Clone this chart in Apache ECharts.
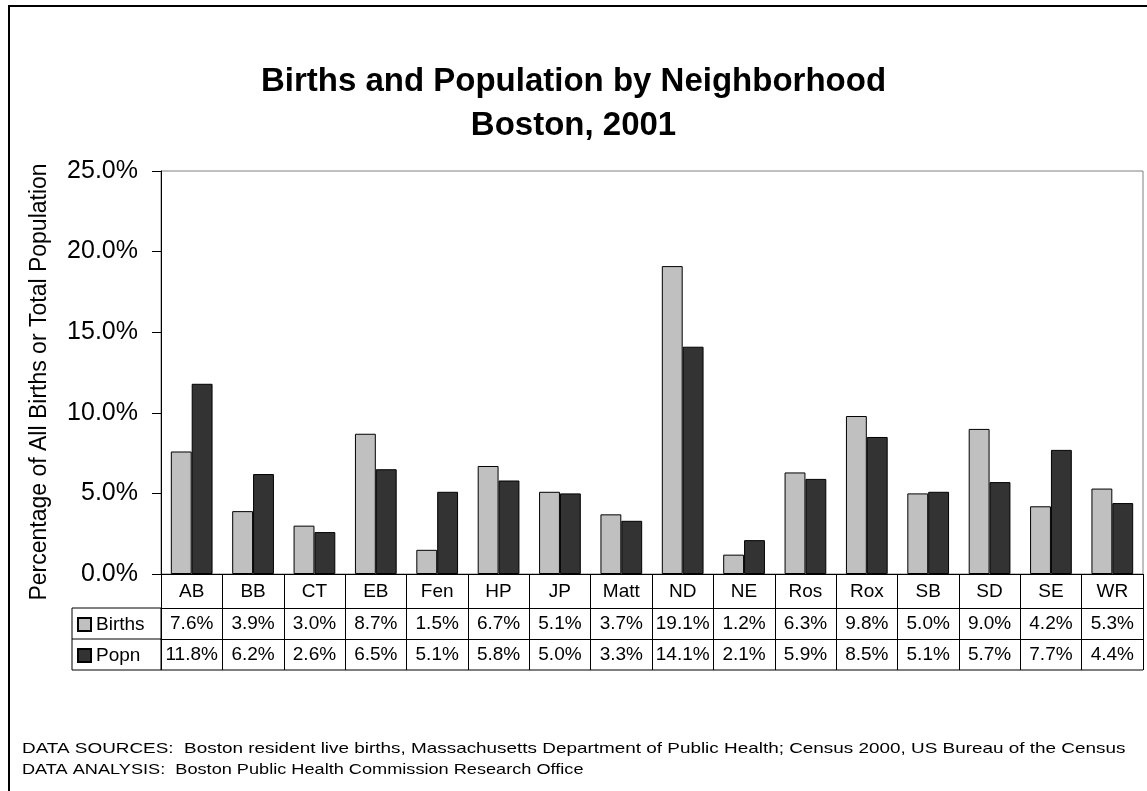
<!DOCTYPE html>
<html>
<head>
<meta charset="utf-8">
<script src="https://cdn.jsdelivr.net/npm/echarts@6/dist/echarts.min.js"></script>
<style>
  html, body { margin:0; padding:0; background:#fff; }
  #chart { width:1147px; height:791px; }
</style>
</head>
<body>
<div id="chart"></div>
<script>
// neighborhoods and values (percent)
var categories = ['AB','BB','CT','EB','Fen','HP','JP','Matt','ND','NE','Ros','Rox','SB','SD','SE','WR'];
var births = [7.6, 3.9, 3.0, 8.7, 1.5, 6.7, 5.1, 3.7, 19.1, 1.2, 6.3, 9.8, 5.0, 9.0, 4.2, 5.3];
var popn   = [11.8, 6.2, 2.6, 6.5, 5.1, 5.8, 5.0, 3.3, 14.1, 2.1, 5.9, 8.5, 5.1, 5.7, 7.7, 4.4];
var yTicks = [0, 5, 10, 15, 20, 25];

var FONT = '"Liberation Sans", Arial, sans-serif';
// plot area layout
var G = { left:161, top:171, right:1143, bottom:574 };
var ROW = 31;   // data table row height
var catRow = 34;

function pct(v){ return v.toFixed(1) + '%'; }

var myChart = echarts.init(document.getElementById('chart'), null, {renderer:'canvas'});

var tableBottom = G.bottom + catRow + ROW * 2;

function tableAxis(labels, offset, len, margin) {
  return {
    type: 'category', data: labels, position: 'bottom', offset: offset,
    axisLine: { show: true, lineStyle: { color: '#000', width: 1 } },
    axisTick: { show: true, interval: 0, length: len, lineStyle: { color: '#000' } },
    axisLabel: { interval: 0, margin: margin, fontSize: 19, color: '#000', fontFamily: FONT }
  };
}

var opt = {
  backgroundColor: '#fff',
  animation: false,
  textStyle: { fontFamily: FONT },
  title: {
    text: 'Births and Population by Neighborhood\nBoston, 2001',
    left: 'center',
    top: 55,
    textStyle: { fontFamily: FONT, fontSize: 33, fontWeight: 'bold', color: '#000', lineHeight: 44 }
  },
  legend: {
    orient: 'vertical',
    left: 77,
    top: G.bottom + catRow + 7,
    padding: 0,
    icon: 'rect',
    itemWidth: 13,
    itemHeight: 13,
    itemGap: 12,
    selectedMode: false,
    textStyle: { fontFamily: FONT, fontSize: 19, color: '#000' },
    data: ['Births', 'Popn']
  },
  grid: {
    left: G.left, top: G.top, right: 1147 - G.right, bottom: 791 - G.bottom,
    show: true, borderColor: '#808080', borderWidth: 1, backgroundColor: 'transparent'
  },
  xAxis: [
    tableAxis(categories, 0, catRow, 8),
    tableAxis(births.map(pct), catRow, ROW, 6),
    tableAxis(popn.map(pct), catRow + ROW, ROW, 6)
  ],
  yAxis: {
    type: 'value', min: yTicks[0], max: yTicks[yTicks.length - 1], interval: 5,
    axisLine: { show: true, lineStyle: { color: '#000', width: 1 } },
    axisTick: { show: true, length: 9, lineStyle: { color: '#000' } },
    splitLine: { show: false },
    axisLabel: { formatter: function (v) { return pct(v); }, fontSize: 25, color: '#000', margin: 23, fontFamily: FONT }
  },
  series: [
    {
      name: 'Births', type: 'bar', data: births, xAxisIndex: 0,
      barGap: '0%', barCategoryGap: '32%',
      itemStyle: { color: '#C0C0C0', borderColor: '#000', borderWidth: 1 }
    },
    {
      name: 'Popn', type: 'bar', data: popn, xAxisIndex: 0,
      barGap: '0%', barCategoryGap: '32%',
      itemStyle: { color: '#333333', borderColor: '#000', borderWidth: 1 }
    }
  ],
  graphic: [
    // outer frame
    { type: 'rect', shape: { x: 9, y: 6, width: 1200, height: 900 }, style: { fill: 'none', stroke: '#000', lineWidth: 2 }, silent: true },
    // legend column of data table
    { type: 'rect', shape: { x: 72, y: G.bottom + catRow, width: G.left - 72, height: ROW * 2 }, style: { fill: 'none', stroke: '#000', lineWidth: 1 }, silent: true },
    { type: 'line', shape: { x1: 72, y1: G.bottom + catRow + ROW, x2: G.left, y2: G.bottom + catRow + ROW }, style: { stroke: '#000', lineWidth: 1 }, silent: true },
    { type: 'line', shape: { x1: G.left, y1: tableBottom, x2: G.right, y2: tableBottom }, style: { stroke: '#000', lineWidth: 1 }, silent: true },
    // y axis title
    {
      type: 'text', x: 40, y: 382, rotation: Math.PI / 2,
      style: { text: 'Percentage of All Births or Total Population', font: '23px ' + FONT, fill: '#000', textAlign: 'center', textVerticalAlign: 'middle' },
      silent: true
    },
    // footnotes
    {
      type: 'text', x: 22, y: 741, scaleX: 1.26,
      style: { text: 'DATA SOURCES:  Boston resident live births, Massachusetts Department of Public Health; Census 2000, US Bureau of the Census', font: '15px ' + FONT, fill: '#000' },
      silent: true
    },
    {
      type: 'text', x: 22, y: 762, scaleX: 1.21,
      style: { text: 'DATA ANALYSIS:  Boston Public Health Commission Research Office', font: '15px ' + FONT, fill: '#000' },
      silent: true
    }
  ]
};

myChart.setOption(opt);
</script>
</body>
</html>
